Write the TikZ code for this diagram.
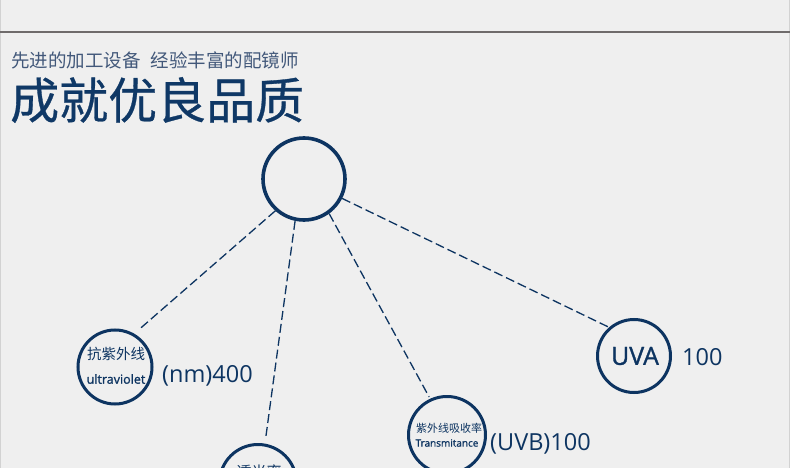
\documentclass[tikz,border=0pt]{standalone}
\usepackage{fontspec}
\newfontfamily\cjk{Noto Sans CJK SC}
\newfontfamily\cjkb[FakeBold=0.6]{Noto Sans CJK SC}
\newfontfamily\lat{Open Sans}
\newfontfamily\latm[FakeBold=1.2]{Open Sans}
\definecolor{navy}{HTML}{0D3461}
\definecolor{titlec}{HTML}{0F3866}
\definecolor{subc}{HTML}{42587A}
\definecolor{bg}{HTML}{EFEFEF}
\definecolor{rulec}{HTML}{6F6B6B}
\definecolor{edgec}{HTML}{D2D2D2}
\begin{document}
\begin{tikzpicture}[x=1pt,y=-1pt,
  ring/.style={circle,draw=navy,line width=3pt,inner sep=0pt,minimum size=#1},
  conn/.style={draw=navy,line width=1.3pt,dash pattern=on 9pt off 4pt},
  lbl/.style={text=navy,inner sep=0pt},
  val/.style={text=navy,inner sep=0pt,anchor=west,font=\lat\fontsize{23.5}{26}\selectfont}]
\useasboundingbox (0,0) rectangle (790,468);
\clip (0,0) rectangle (790,468);
\fill[bg] (0,0) rectangle (790,468);
\draw[edgec,line width=1pt] (0.5,0) -- (0.5,468);
\draw[edgec,line width=1pt] (789.5,0) -- (789.5,468);
\draw[rulec,line width=1.5pt] (0,32) -- (790,32);

\node[anchor=west,inner sep=0pt,text=subc,font=\cjk\fontsize{18.5}{20}\selectfont] (sub) at (11,60) {先进的加工设备\hspace{10pt}经验丰富的配镜师};
\node[anchor=west,inner sep=0pt,text=titlec,font=\cjkb\fontsize{49}{52}\selectfont] (title) at (10,100) {成就优良品质};

\node[ring=82pt,line width=3.6pt] (hub) at (304,179) {};
\node[ring=74pt] (uv) at (115,367) {};
\node[ring=77pt] (tr) at (258,483) {};
\node[ring=77pt] (uvb) at (447,435) {};
\node[ring=73pt] (uva) at (634,356) {};

\node[lbl,font=\cjk\fontsize{14.5}{16}\selectfont] (uvcn) at (116,354) {抗紫外线};
\node[lbl,font=\latm\fontsize{12.5}{15}\selectfont] (uven) at (116,379) {ultraviolet};
\node[lbl,font=\cjk\fontsize{15}{17}\selectfont] (trcn) at (259,472) {透光率};
\node[lbl,font=\cjk\fontsize{11}{13}\selectfont] (uvbcn) at (449,428) {紫外线吸收率};
\node[lbl,font=\latm\fontsize{10}{12}\selectfont] (uvben) at (447,443) {Transmitance};
\node[lbl,font=\latm\fontsize{25}{27}\selectfont] (uvaen) at (635,356) {UVA};

\node[val] (v1) at (162,376) {(nm)400};
\node[val] (v2) at (682,357) {100};
\node[val] (v3) at (490,444) {(UVB)100};

\draw[conn,shorten >=8pt] (hub.-132) -- (uv.60);
\draw[conn,shorten >=5pt] (hub.-102) -- (tr.80);
\draw[conn,shorten >=2pt] (hub.-54) -- (uvb.115);
\draw[conn] (hub.-27) -- (uva.131);
\end{tikzpicture}
\end{document}
